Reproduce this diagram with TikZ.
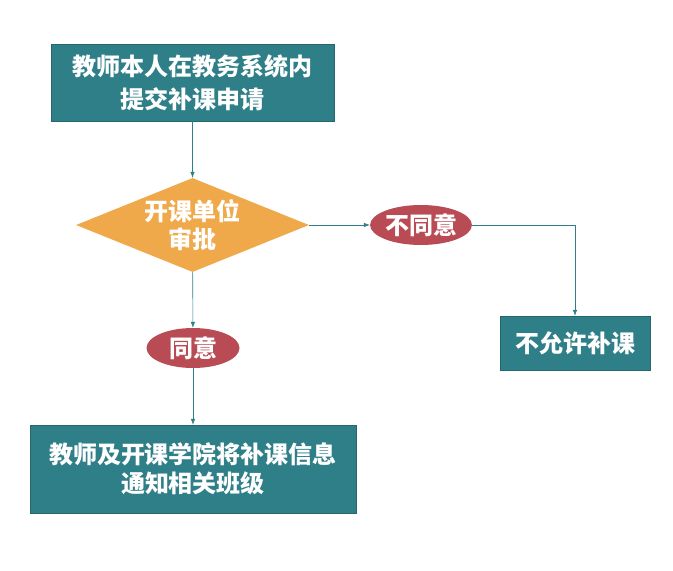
\documentclass[tikz,border=0pt]{standalone}
\usepackage{fontspec}
\setmainfont{Noto Sans CJK SC}
\usepackage{xcolor}
\usetikzlibrary{arrows.meta, positioning, shapes.geometric}

\definecolor{tealbox}{HTML}{2F7F88}
\definecolor{orangedia}{HTML}{EFA94A}
\definecolor{redtag}{HTML}{B84B53}

\tikzset{
  stepbox/.style={fill=tealbox, draw=tealbox!80!black, line width=0.4pt, text=white,
    font=\fontsize{24}{29}\selectfont\bfseries, align=center, inner sep=0pt},
  checkdia/.style={diamond, aspect=2.48, fill=orangedia, text=white, inner sep=0pt,
    font=\fontsize{24}{28}\selectfont\bfseries, align=center},
  tag/.style={ellipse, fill=redtag, text=white, inner sep=0pt,
    font=\fontsize{24}{28}\selectfont\bfseries},
  link/.style={draw=tealbox, line width=0.6pt, -{Latex[length=6pt,width=4.5pt]}}
}

\begin{document}
\begin{tikzpicture}[x=1pt, y=-1pt]
  \useasboundingbox (0,0) rectangle (673,571);

  \node[stepbox, minimum width=283pt, minimum height=77pt,
        font=\fontsize{24}{33}\selectfont\bfseries] (apply) at (192.5,82.5)
    {教师本人在教务系统内\\提交补课申请};
  \node[checkdia, minimum width=233pt, minimum height=94pt] (check) at (192.5,225)
    {开课单位\\审批};
  \node[tag, minimum width=100pt, minimum height=40pt] (no) at (421,225) {不同意};
  \node[stepbox, minimum width=150pt, minimum height=54pt] (deny) at (575,343) {不允许补课};
  \node[tag, minimum width=93pt, minimum height=40pt] (yes) at (193,348) {同意};
  \node[stepbox, minimum width=326pt, minimum height=88pt] (notify) at (193,469)
    {教师及开课学院将补课信息\\通知相关班级};

  \draw[link] (apply) -- (check);
  \draw[link] (check) -- (no);
  \draw[link] (no) -| (deny);
  \draw[link] (check) -- (yes);
  \draw[link] (yes) -- (notify);
\end{tikzpicture}
\end{document}
